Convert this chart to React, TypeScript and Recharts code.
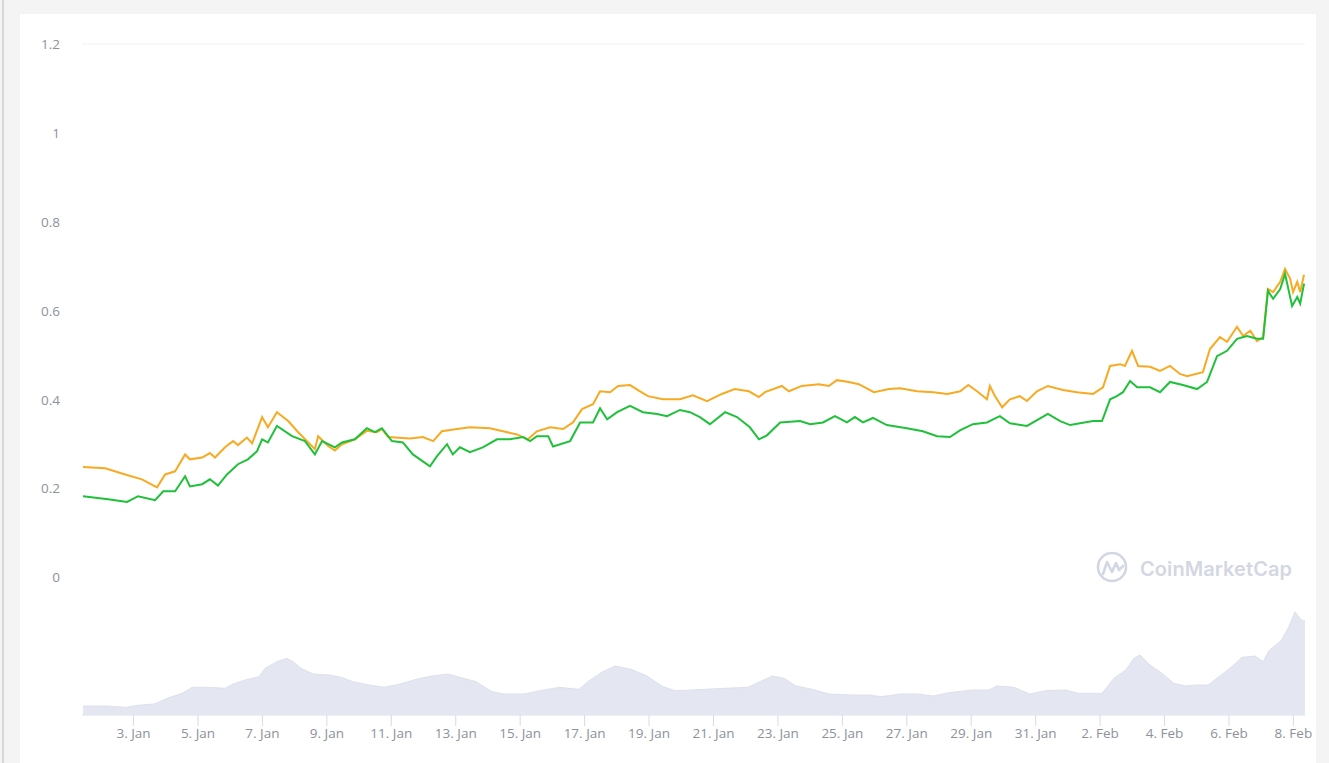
import { Area, CartesianGrid, ComposedChart, Line, XAxis, YAxis } from "recharts";

// time axis in days, 0 = 1 Jan 00:00
const priceTicks = [0, 0.2, 0.4, 0.6, 0.8, 1, 1.2];
const dayTicks = [2, 4, 6, 8, 10, 12, 14, 16, 18, 20, 22, 24, 26, 28, 30, 32, 34, 36, 38];

const orangeT = [
  0.43, 1.12, 1.74, 2.26, 2.73, 2.98, 3.29, 3.6, 3.75, 4.13, 4.37, 4.53, 4.84, 5.09, 5.24, 5.52,
  5.68, 5.99, 6.17, 6.45, 6.8, 7.11, 7.63, 7.73, 8.04, 8.25, 8.47, 8.87, 9.24, 9.55, 9.71, 9.9,
  10.58, 10.98, 11.3, 11.57, 12.04, 12.44, 13.06, 13.47, 13.9, 14.24, 14.52, 14.93, 15.33, 15.64,
  15.92, 16.26, 16.48, 16.79, 17.04, 17.41, 17.72, 17.97, 18.43, 18.96, 19.36, 19.8, 20.26, 20.66,
  21.1, 21.41, 21.6, 22.12, 22.34, 22.74, 23.27, 23.58, 23.83, 24.2, 24.51, 24.98, 25.45, 25.79,
  26.32, 26.82, 27.26, 27.66, 27.91, 28.18, 28.49, 28.58, 28.74, 28.96, 29.2, 29.51, 29.73, 30.04,
  30.38, 30.85, 31.28, 31.78, 32.09, 32.31, 32.62, 32.77, 32.99, 33.18, 33.55, 33.86, 34.17, 34.48,
  34.7, 35.19, 35.41, 35.72, 35.94, 36.25, 36.44, 36.66, 36.87, 37.06, 37.21, 37.37, 37.59, 37.74,
  37.9, 37.99, 38.12, 38.21, 38.33,
];
const orangeV = [
  0.249, 0.246, 0.232, 0.221, 0.203, 0.232, 0.239, 0.277, 0.266, 0.27, 0.28, 0.27, 0.293, 0.307,
  0.298, 0.315, 0.302, 0.361, 0.338, 0.372, 0.352, 0.327, 0.289, 0.318, 0.296, 0.286, 0.3, 0.311,
  0.33, 0.327, 0.334, 0.316, 0.313, 0.316, 0.307, 0.329, 0.334, 0.338, 0.336, 0.329, 0.322, 0.311,
  0.329, 0.338, 0.334, 0.349, 0.379, 0.39, 0.419, 0.417, 0.431, 0.433, 0.419, 0.408, 0.401, 0.401,
  0.41, 0.397, 0.413, 0.424, 0.419, 0.406, 0.417, 0.431, 0.419, 0.431, 0.435, 0.431, 0.444, 0.44,
  0.435, 0.417, 0.424, 0.426, 0.419, 0.417, 0.413, 0.419, 0.433, 0.419, 0.401, 0.431, 0.408, 0.383,
  0.401, 0.408, 0.397, 0.419, 0.431, 0.422, 0.417, 0.413, 0.428, 0.476, 0.48, 0.476, 0.51, 0.476,
  0.474, 0.465, 0.476, 0.458, 0.453, 0.462, 0.514, 0.541, 0.53, 0.564, 0.543, 0.555, 0.532, 0.541,
  0.649, 0.642, 0.665, 0.694, 0.672, 0.642, 0.665, 0.642, 0.681,
];

const greenT = [
  0.43, 1.21, 1.8, 2.14, 2.67, 2.92, 3.29, 3.6, 3.75, 4.13, 4.37, 4.62, 4.9, 5.24, 5.55, 5.83,
  5.99, 6.17, 6.45, 6.92, 7.32, 7.63, 7.85, 8.25, 8.47, 8.87, 9.24, 9.49, 9.71, 10.02, 10.36,
  10.67, 11.2, 11.42, 11.73, 11.91, 12.13, 12.44, 12.84, 13.28, 13.68, 14.09, 14.31, 14.52, 14.87,
  15.02, 15.55, 15.86, 16.26, 16.48, 16.7, 17.01, 17.41, 17.81, 18.25, 18.56, 18.96, 19.27, 19.58,
  19.89, 20.36, 20.73, 21.13, 21.41, 21.66, 22.07, 22.69, 23.0, 23.4, 23.77, 24.14, 24.39, 24.64,
  24.95, 25.38, 26.0, 26.5, 26.94, 27.34, 27.65, 28.05, 28.49, 28.68, 28.89, 29.2, 29.73, 30.38,
  30.76, 31.07, 31.78, 32.06, 32.31, 32.52, 32.71, 32.93, 33.15, 33.55, 33.86, 34.17, 34.57, 35.01,
  35.32, 35.63, 35.94, 36.25, 36.56, 36.87, 37.06, 37.21, 37.37, 37.59, 37.74, 37.96, 38.12,
  38.21, 38.33,
];
const greenV = [
  0.183, 0.176, 0.17, 0.183, 0.174, 0.194, 0.194, 0.228, 0.205, 0.21, 0.221, 0.207, 0.232, 0.255,
  0.266, 0.284, 0.311, 0.304, 0.341, 0.318, 0.307, 0.277, 0.307, 0.293, 0.304, 0.311, 0.336, 0.327,
  0.336, 0.307, 0.304, 0.277, 0.25, 0.273, 0.3, 0.277, 0.293, 0.282, 0.293, 0.311, 0.311, 0.316,
  0.307, 0.318, 0.318, 0.295, 0.307, 0.349, 0.349, 0.381, 0.356, 0.372, 0.386, 0.372, 0.368, 0.363,
  0.377, 0.372, 0.361, 0.345, 0.372, 0.361, 0.338, 0.311, 0.32, 0.349, 0.352, 0.345, 0.349, 0.363,
  0.349, 0.361, 0.349, 0.359, 0.343, 0.336, 0.329, 0.318, 0.316, 0.331, 0.345, 0.349, 0.356, 0.363,
  0.347, 0.341, 0.368, 0.352, 0.343, 0.352, 0.352, 0.401, 0.408, 0.417, 0.442, 0.428, 0.428, 0.417,
  0.44, 0.433, 0.424, 0.44, 0.498, 0.51, 0.537, 0.543, 0.537, 0.537, 0.645, 0.627, 0.649, 0.683,
  0.611, 0.631, 0.616, 0.661,
];

const volumeT = [
  0.43, 1.16, 1.77, 2.14, 2.64, 3.13, 3.51, 3.82, 4.37, 4.84, 5.09, 5.46, 5.9, 6.08, 6.45, 6.76,
  6.95, 7.2, 7.57, 8.07, 8.44, 8.81, 9.31, 9.78, 10.27, 10.77, 11.26, 11.76, 12.13, 12.63, 13.12,
  13.5, 14.12, 14.62, 15.21, 15.83, 16.14, 16.57, 16.94, 17.44, 17.94, 18.43, 18.81, 19.33, 20.33,
  21.07, 21.44, 21.82, 22.19, 22.56, 23.06, 23.59, 24.33, 24.83, 25.2, 25.82, 26.32, 26.82, 27.31,
  28.05, 28.55, 28.8, 29.33, 29.82, 30.32, 30.94, 31.31, 32.06, 32.43, 32.8, 33.05, 33.24, 33.55,
  33.92, 34.29, 34.67, 34.98, 35.35, 35.72, 36.09, 36.4, 36.81, 37.06, 37.24, 37.62, 37.86, 38.05,
  38.24, 38.36,
];
// volume, millions
const volumeV = [
  27, 27, 23, 29, 33, 53, 65, 83, 83, 80, 93, 105, 115, 140, 160, 170, 160, 140, 123, 120, 113,
  100, 90, 83, 93, 107, 117, 123, 113, 100, 70, 63, 63, 73, 83, 77, 103, 130, 147, 137, 117, 85, 73,
  75, 80, 83, 100, 117, 110, 87, 77, 63, 60, 60, 55, 63, 63, 57, 67, 75, 75, 87, 83, 63, 73, 75, 65,
  65, 110, 135, 170, 180, 150, 125, 95, 87, 90, 90, 117, 145, 173, 177, 160, 193, 223, 265, 310,
  285, 283,
];

const orangeData = orangeT.map((t, i) => ({ t, price: orangeV[i] }));
const greenData = greenT.map((t, i) => ({ t, price: greenV[i] }));
const volumeData = volumeT.map((t, i) => ({ t, volume: volumeV[i] }));

const dayLabel = (d: number) => (d <= 30 ? `${d + 1}. Jan` : `${d - 30}. Feb`);

function Watermark() {
  return (
    <svg
      width={220}
      height={40}
      style={{ position: "absolute", left: 1092, top: 549, pointerEvents: "none" }}
    >
      <circle cx={20} cy={18} r={14} fill="none" stroke="#d3d7e3" strokeWidth={2.6} />
      <path
        d="M11 25 L15 13 L20 23 L24 14 L27 21 L31 17"
        fill="none"
        stroke="#d3d7e3"
        strokeWidth={2.6}
        strokeLinejoin="round"
        strokeLinecap="round"
      />
      <text
        x={48}
        y={27}
        fontFamily="Inter, 'Open Sans', sans-serif"
        fontSize={20}
        fontWeight={600}
        fill="#d3d7e3"
        textLength={152}
      >
        CoinMarketCap
      </text>
    </svg>
  );
}

export default function App() {
  return (
    <div
      style={{
        position: "absolute",
        left: 0,
        top: 0,
        width: 1329,
        height: 763,
        background: "#f4f4f5",
        overflow: "hidden",
        fontFamily: "'Open Sans', sans-serif",
      }}
    >
      <div style={{ position: "absolute", left: 2, top: 0, width: 2, height: 763, background: "#d6d6d8" }} />
      <div style={{ position: "absolute", left: 20, top: 14, width: 1296, height: 760, background: "#fff" }} />
      <div style={{ position: "absolute", left: 0, top: 0 }}>
        <ComposedChart width={1329} height={763} margin={{ top: 44, right: 24, bottom: 18, left: 22 }}>
          <CartesianGrid vertical={false} stroke="#f0f1f4" />
          <XAxis
            xAxisId="t"
            type="number"
            dataKey="t"
            domain={[0.4, 38.36]}
            ticks={dayTicks}
            tickFormatter={dayLabel}
            allowDataOverflow
            height={30}
            tickSize={11}
            tickMargin={2}
            stroke="#d5dbe9"
            tick={{ fill: "#8d919c", fontSize: 13.5 }}
            axisLine={{ stroke: "#e3e6ee" }}
          />
          <YAxis
            yAxisId="price"
            xAxisId="t"
            width={60}
            domain={[-0.309, 1.2]}
            ticks={priceTicks}
            allowDataOverflow
            tickSize={0}
            tickMargin={22}
            axisLine={false}
            tickLine={false}
            tick={{ fill: "#8d919c", fontSize: 13.5 }}
          />
          <YAxis yAxisId="vol" orientation="right" width={0} hide domain={[0, 2013]} />
          <Area
            data={volumeData}
            xAxisId="t"
            yAxisId="vol"
            dataKey="volume"
            type="linear"
            fill="#e4e7f1"
            fillOpacity={1}
            stroke="#dde1ec"
            strokeWidth={1}
            isAnimationActive={false}
          />
          <Line
            data={orangeData}
            xAxisId="t"
            yAxisId="price"
            dataKey="price"
            type="linear"
            stroke="#f7aa22"
            strokeWidth={2}
            dot={false}
            isAnimationActive={false}
          />
          <Line
            data={greenData}
            xAxisId="t"
            yAxisId="price"
            dataKey="price"
            type="linear"
            stroke="#20c13a"
            strokeWidth={2}
            dot={false}
            isAnimationActive={false}
          />
        </ComposedChart>
      </div>
      <Watermark />
    </div>
  );
}
